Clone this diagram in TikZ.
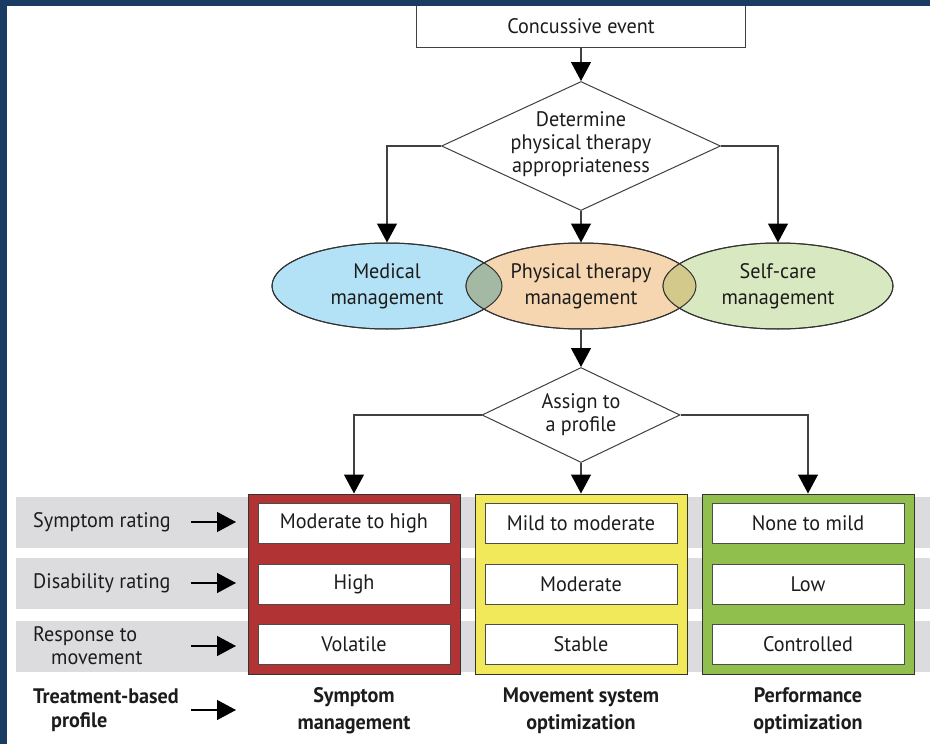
\documentclass[tikz,border=0pt]{standalone}
\usepackage{fontspec}
\setmainfont{PT Sans}[FakeStretch=0.96]
\usetikzlibrary{shapes.geometric,arrows.meta,positioning}

\definecolor{frameblue}{HTML}{1A3C62}
\definecolor{inkgray}{HTML}{1C1C1C}
\definecolor{linegray}{HTML}{404040}
\definecolor{medblue}{HTML}{B3E1F5}
\definecolor{ptpeach}{HTML}{F6D6B0}
\definecolor{selfgreen}{HTML}{D8E8C0}
\definecolor{lensgray}{HTML}{A3B9A4}
\definecolor{lensolive}{HTML}{D2C98B}
\definecolor{bandgray}{HTML}{DCDCDE}
\definecolor{sympred}{HTML}{B13334}
\definecolor{moveyellow}{HTML}{F1E95A}
\definecolor{perfgreen}{HTML}{90BF4E}

\begin{document}
\begin{tikzpicture}[x=1pt,y=-1pt,
  every node/.style={font=\fontsize{21}{23}\selectfont, text=inkgray},
  line/.style={draw=linegray, line width=1.3pt},
  arr/.style={line, -{Triangle[width=20pt,length=19pt,color=black]}},
  startbox/.style={draw=linegray, fill=white, line width=1pt, minimum width=329pt, minimum height=42pt, inner sep=0pt},
  decision/.style={diamond, draw=linegray, fill=white, line width=1pt, inner sep=0pt},
  manage/.style={ellipse, draw=black!80, line width=1pt, minimum width=230pt, minimum height=86pt, inner sep=0pt, align=center, font=\fontsize{21}{26}\selectfont},
  profile/.style={draw=black!80, line width=1pt, minimum width=212pt, minimum height=180pt, inner sep=0pt},
  rating/.style={draw=black!70, fill=white, line width=1pt, minimum width=192pt, minimum height=40pt, inner sep=0pt},
  rowlabel/.style={anchor=west, align=left, inner sep=0pt},
  plabel/.style={align=center, inner sep=0pt, font=\bfseries\fontsize{21}{27}\selectfont}
]
\useasboundingbox (0,0) rectangle (930,744);
\fill[white] (0,0) rectangle (930,744);

% grey rows behind the profiles
\fill[bandgray] (16,497) rectangle (930,548);
\fill[bandgray] (16,558) rectangle (930,609);
\fill[bandgray] (16,621) rectangle (930,672);

% top of the flow
\node[startbox] (start) at (581,26) {Concussive event};
\node[decision, minimum width=279pt, minimum height=129pt] (appr) at (581,146) {};
\node[align=center] (appr-t) at ([yshift=2pt]appr.center) {Determine\\physical therapy\\appropriateness};

\node[manage, fill=medblue] (med) at (387,286) {Medical\\management};
\node[manage, fill=ptpeach] (ptm) at (581,286) {Physical therapy\\management};
\node[manage, fill=selfgreen] (self) at (778,286) {Self-care\\management};

% overlaps
\begin{scope}
  \clip (med.center) ellipse[x radius=115pt, y radius=43pt];
  \fill[lensgray] (ptm.center) ellipse[x radius=115pt, y radius=43pt];
\end{scope}
\begin{scope}
  \clip (self.center) ellipse[x radius=115pt, y radius=43pt];
  \fill[lensolive] (ptm.center) ellipse[x radius=115pt, y radius=43pt];
\end{scope}
\foreach \e in {med,ptm,self}
  \draw[black!80, line width=1pt] (\e.center) ellipse[x radius=115pt, y radius=43pt];

\node[decision, minimum width=198pt, minimum height=95pt] (assign) at (581,415) {};
\node[align=center] (assign-t) at (assign) {Assign to\\a profile};

% profiles
\node[profile, fill=sympred] (symp) at (354,584) {};
\node[profile, fill=moveyellow] (move) at (581,584) {};
\node[profile, fill=perfgreen] (perf) at (808,584) {};

\foreach \p/\a/\b/\c in {symp/Moderate to high/High/Volatile,
    move/Mild to moderate/Moderate/Stable,
    perf/None to mild/Low/Controlled} {
  \node[rating] (\p-sym) at ([yshift=61pt]\p.center) {\a};
  \node[rating] (\p-dis) at (\p.center) {\b};
  \node[rating] (\p-resp) at ([yshift=-60pt]\p.center) {\c};
}

\node[plabel] (symp-l) at (354,711) {Symptom\\management};
\node[plabel] (move-l) at (581,711) {Movement system\\optimization};
\node[plabel] (perf-l) at (808,711) {Performance\\optimization};

% row labels
\node[rowlabel] (lab-sym) at (33,522) {Symptom rating};
\node[rowlabel] (lab-dis) at (33,583) {Disability rating};
\node[rowlabel] (lab-resp) at (33,646) {Response to\\\hspace*{18pt}movement};
\node[rowlabel, font=\bfseries\fontsize{21}{24}\selectfont] (lab-prof) at (33,710) {Treatment-based\\\hspace*{18pt}profile};

\foreach \r/\y in {sym/522,dis/583,resp/646,prof/710} {
  \coordinate (\r-a) at (191,\y);
  \coordinate (\r-b) at (236,\y);
  \draw[arr, draw=black] (\r-a) -- (\r-b);
}

% connectors
\draw[arr] (start) -- (appr.north);
\draw[arr] (appr.west) -| (med.north);
\draw[arr] (appr.south) -- (ptm.north);
\draw[arr] (appr.east) -| (self.north);
\draw[arr] (ptm.south) -- (assign.north);
\draw[arr] (assign.west) -| (symp.north);
\draw[arr] (assign.south) -- (move.north);
\draw[arr] (assign.east) -| (perf.north);

% frame
\fill[frameblue] (0,0) rectangle (930,6);
\fill[frameblue] (0,0) rectangle (7,744);
\end{tikzpicture}
\end{document}
